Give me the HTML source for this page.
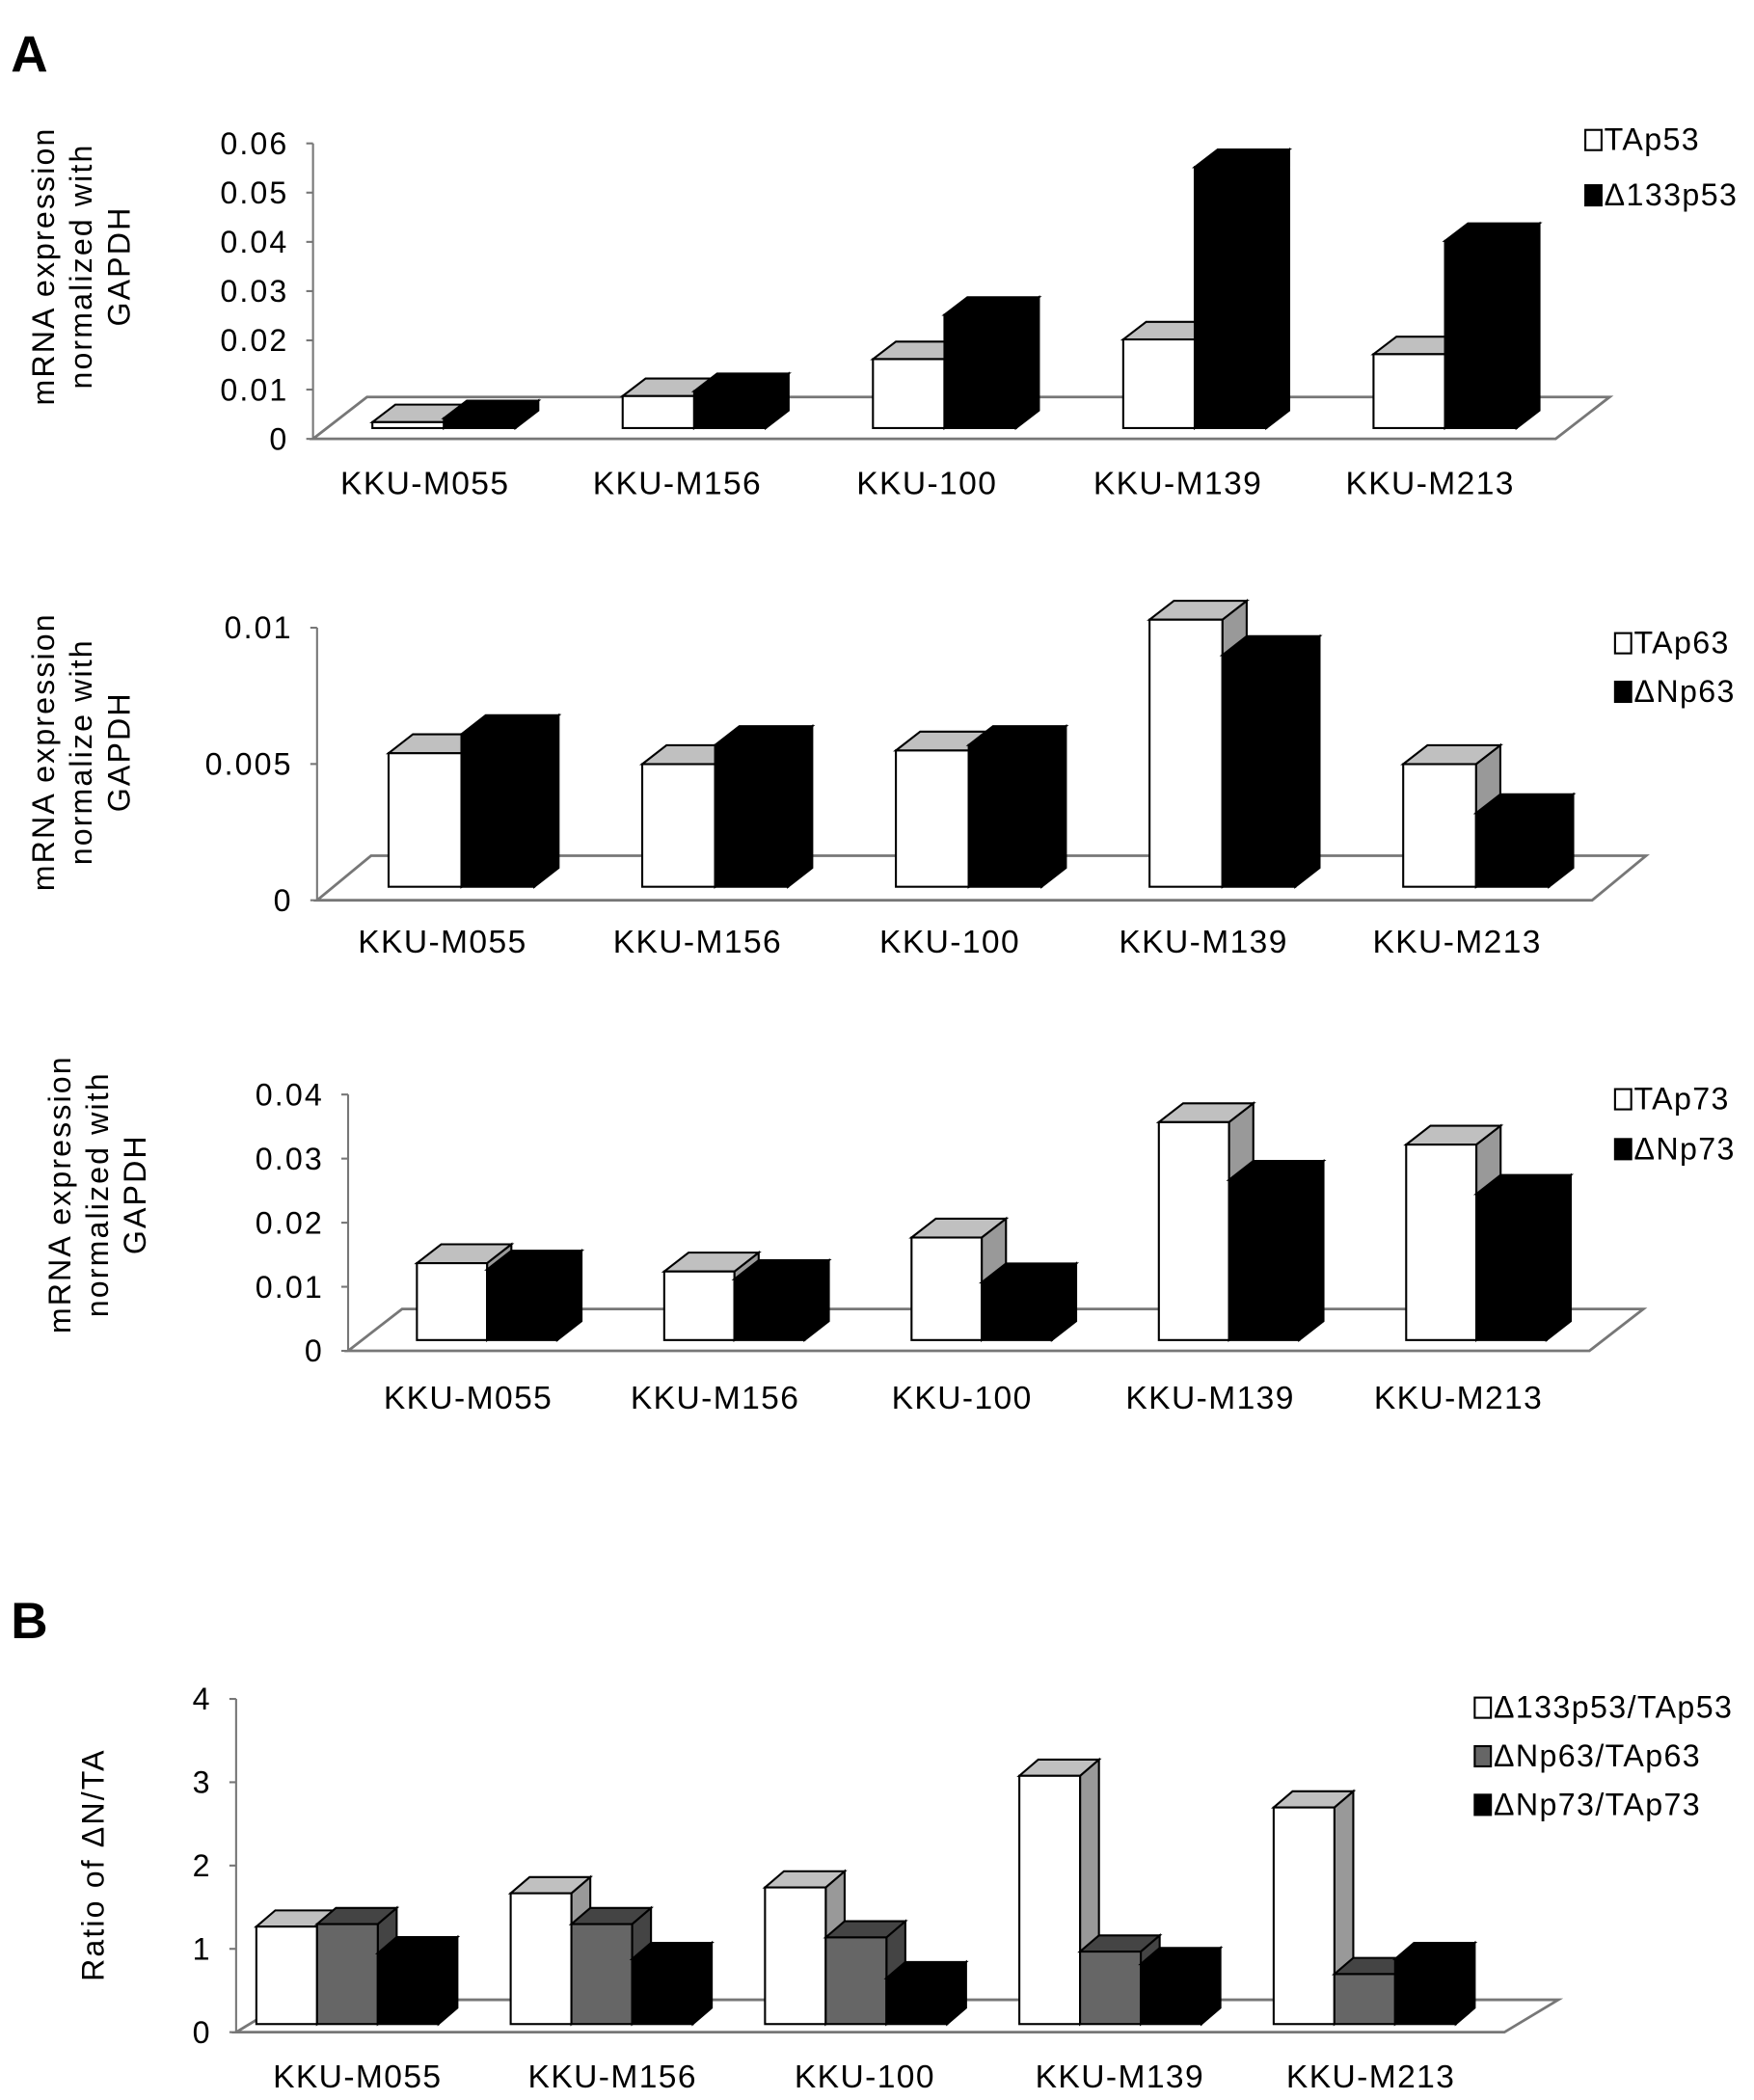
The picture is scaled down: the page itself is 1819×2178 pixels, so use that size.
<!DOCTYPE html>
<html><head><meta charset="utf-8"><style>
body{margin:0;background:#fff}
svg{display:block}
text{font-family:"Liberation Sans",Arial,sans-serif;fill:#000}
</style></head><body>
<svg id="fig" width="1819" height="2178" viewBox="0 0 1300 1556" xmlns="http://www.w3.org/2000/svg">
<text x="8" y="53" font-size="38" font-weight="bold">A</text>
<text x="8" y="1214" font-size="38" font-weight="bold">B</text>
</svg>
<script>
const categories = ["KKU-M055","KKU-M156","KKU-100","KKU-M139","KKU-M213"];
const p53TA = [0.0012, 0.0065, 0.014, 0.018, 0.015];
const p53D133 = [0.002, 0.0075, 0.023, 0.053, 0.038];
const p63TA = [0.0049, 0.0045, 0.005, 0.0098, 0.0045];
const p63DN = [0.0056, 0.0052, 0.0052, 0.0085, 0.0027];
const p73TA = [0.012, 0.0107, 0.016, 0.034, 0.0305];
const p73DN = [0.011, 0.0095, 0.009, 0.025, 0.0228];
const ratio53 = [1.17, 1.57, 1.64, 2.98, 2.6];
const ratio63 = [1.2, 1.2, 1.04, 0.87, 0.6];
const ratio73 = [0.85, 0.78, 0.55, 0.72, 0.78];
const ticks1 = ["0","0.01","0.02","0.03","0.04","0.05","0.06"];
const ticks2 = ["0","0.005","0.01"];
const ticks3 = ["0","0.01","0.02","0.03","0.04"];
const ticksB = ["0","1","2","3","4"];

const svg = document.getElementById('fig');
const NS = 'http://www.w3.org/2000/svg';
function mk(tag, attrs, parent){const e=document.createElementNS(NS,tag);for(const k in attrs)e.setAttribute(k,attrs[k]);(parent||svg).appendChild(e);return e;}

const styles = {
 white:{front:'#fff',top:'#c0c0c0',side:'#999'},
 black:{front:'#000',top:'#000',side:'#000'},
 gray:{front:'#666',top:'#444',side:'#444'}
};

function chart(cfg){
 const g = mk('g',{});
 
 
 const ysc = v => cfg.y0 - (v/cfg.max)*(cfg.y0-cfg.yTop);
 const fl = mk('polygon',{points:`${cfg.ax},${cfg.y0} ${cfg.ax+cfg.fd[0]},${cfg.y0+cfg.fd[1]} ${cfg.floorR+cfg.fd[0]},${cfg.y0+cfg.fd[1]} ${cfg.floorR},${cfg.y0}`,fill:'#fff',stroke:'#777','stroke-width':2},g);
 
 
 const ax = mk('line',{x1:cfg.ax,y1:cfg.y0,x2:cfg.ax,y2:cfg.yTop,stroke:'#777','stroke-width':1.5},g);
 
 
 cfg.ticks.forEach((t,i)=>{
  const v = cfg.max*i/(cfg.ticks.length-1);
  const y = ysc(v);
  mk('line',{x1:cfg.ax-5,y1:y,x2:cfg.ax,y2:y,stroke:'#777','stroke-width':1.5},g);
  const tx = mk('text',{x:cfg.ax-18,y:y+8,'font-size':23,'letter-spacing':1.5,'text-anchor':'end'},g);
  tx.textContent=t;
  
  
 });
 const tt = mk('text',{transform:`translate(${cfg.titleX},${cfg.titleY}) rotate(-90)`,'font-size':23,'letter-spacing':1.5,'text-anchor':'middle'},g);
 
 
 cfg.title.forEach((l,i)=>{const ts=mk('tspan',{x:0,dy:i?28:0},tt);ts.textContent=l;});
 const [dx,dy] = cfg.bd;
 categories.forEach((c,ci)=>{
  const left = cfg.x0 + ci*cfg.gap;
  cfg.series.forEach((s,si)=>{
   const x = left + si*cfg.bw;
   const yt = cfg.base - (cfg.y0 - ysc(s.data[ci]));
   const st = styles[s.style];
   const bar = mk('g',{},g);
   
   
   mk('polygon',{points:`${x+cfg.bw},${yt} ${x+cfg.bw+dx},${yt+dy} ${x+cfg.bw+dx},${cfg.base+dy} ${x+cfg.bw},${cfg.base}`,fill:st.side,stroke:'#000','stroke-width':1.5},bar);
   mk('polygon',{points:`${x},${yt} ${x+dx},${yt+dy} ${x+cfg.bw+dx},${yt+dy} ${x+cfg.bw},${yt}`,fill:st.top,stroke:'#000','stroke-width':1.5},bar);
   mk('rect',{x:x,y:yt,width:cfg.bw,height:cfg.base-yt,fill:st.front,stroke:'#000','stroke-width':1.5},bar);
  });
  const lb = mk('text',{x:cfg.labelX[ci],y:cfg.labelY,'font-size':24,'letter-spacing':1,'text-anchor':'middle'},g);
  lb.textContent=c;
  
  
 });
 cfg.series.forEach((s,si)=>{
  const ly = cfg.legY + si*cfg.legGap;
  const le = mk('g',{},g);
  
  
  mk('rect',{x:cfg.legX,y:ly-15,width:12,height:15,fill:styles[s.style].front,stroke:'#000','stroke-width':1.5},le);
  const t = mk('text',{x:cfg.legX+14,y:ly,'font-size':23,'letter-spacing':1},le);
  t.textContent=s.label;
 });
}

chart({name:'chart-p53',ax:232,y0:325,yTop:106,max:0.06,ticks:ticks1,floorR:1153,fd:[40,-31],base:317,
 x0:276,gap:185.5,bw:53,bd:[17,-13],labelX:[315,502,687,873,1060],labelY:366,
 titleX:40,titleY:197,title:['mRNA expression','normalized with','GAPDH'],
 legX:1175,legY:111,legGap:41,
 series:[{key:'tap53',label:'TAp53',style:'white',data:p53TA},{key:'d133p53',label:'Δ133p53',style:'black',data:p53D133}]});

chart({name:'chart-p63',ax:235,y0:667,yTop:465,max:0.01,ticks:ticks2,floorR:1180,fd:[40,-33],base:657,
 x0:288,gap:188,bw:54,bd:[18,-14],labelX:[328,517,704,892,1080],labelY:706,
 titleX:40,titleY:557,title:['mRNA expression','normalize with','GAPDH'],
 legX:1197,legY:484,legGap:36,
 series:[{key:'tap63',label:'TAp63',style:'white',data:p63TA},{key:'dnp63',label:'ΔNp63',style:'black',data:p63DN}]});

chart({name:'chart-p73',ax:258,y0:1001,yTop:811,max:0.04,ticks:ticks3,floorR:1178,fd:[40,-31],base:993,
 x0:309,gap:183.3,bw:52,bd:[18,-14],labelX:[347,530,713,897,1081],labelY:1044,
 titleX:52,titleY:885,title:['mRNA expression','normalized with','GAPDH'],
 legX:1197,legY:822,legGap:37,
 series:[{key:'tap73',label:'TAp73',style:'white',data:p73TA},{key:'dnp73',label:'ΔNp73',style:'black',data:p73DN}]});

chart({name:'chart-ratio',ax:175,y0:1506,yTop:1259,max:4,ticks:ticksB,floorR:1115,fd:[40,-24],base:1500,
 x0:190,gap:188.5,bw:45,bd:[14,-12],labelX:[265,454,641,830,1016],labelY:1547,
 titleX:77,titleY:1382,title:['Ratio of ΔN/TA'],
 legX:1093,legY:1273,legGap:36,
 series:[{key:'d133-tap53',label:'Δ133p53/TAp53',style:'white',data:ratio53},{key:'dnp63-tap63',label:'ΔNp63/TAp63',style:'gray',data:ratio63},{key:'dnp73-tap73',label:'ΔNp73/TAp73',style:'black',data:ratio73}]});
</script>
</body></html>
